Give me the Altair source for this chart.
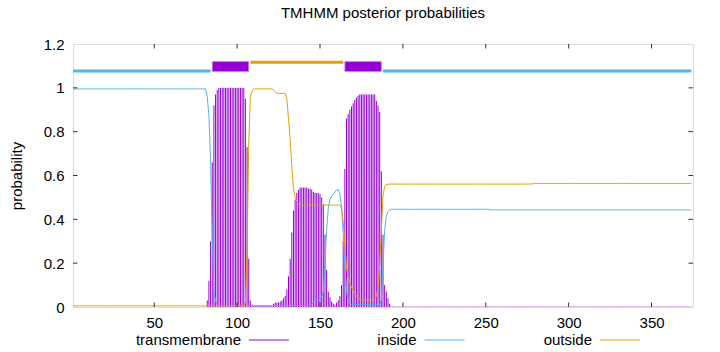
import altair as alt
import pandas as pd

# ---- data ----
residues = list(range(1, 375))

tm = ([0.0] * 81
      + [0.03, 0.12, 0.30, 0.66, 0.92, 0.97, 0.99]
      + [1.0] * 16
      + [0.95, 0.73, 0.22, 0.03, 0.01]
      + [0.004] * 12
      + [0.015, 0.02, 0.02, 0.02, 0.025, 0.03, 0.04, 0.05, 0.08, 0.14,
         0.22, 0.34, 0.44, 0.49, 0.52, 0.535, 0.545, 0.545, 0.545, 0.545,
         0.545, 0.54, 0.54, 0.535, 0.525, 0.52, 0.52, 0.52, 0.515, 0.50,
         0.47, 0.33, 0.17, 0.07, 0.045, 0.025, 0.015, 0.01, 0.02, 0.03,
         0.05, 0.10, 0.30, 0.63, 0.86, 0.88, 0.90, 0.915, 0.93, 0.945,
         0.955, 0.965]
      + [0.97] * 10
      + [0.94, 0.92, 0.89, 0.62, 0.33, 0.10, 0.07, 0.04]
      + [0.015]
      + [0.002] * 182)

inside = ([0.995] * 81
          + [0.96, 0.87, 0.66, 0.32, 0.07, 0.025, 0.01]
          + [0.007] * 56
          + [0.012, 0.02, 0.025, 0.03, 0.033, 0.037, 0.045, 0.07, 0.19, 0.35,
             0.45, 0.49, 0.505, 0.515, 0.525, 0.535, 0.535, 0.515, 0.46, 0.33,
             0.19, 0.075, 0.03, 0.015]
          + [0.012] * 18
          + [0.03, 0.19, 0.35, 0.415, 0.435, 0.442]
          + [0.446] * 60
          + [0.443] * 122)

outside = ([0.005] * 104
           + [0.02, 0.25, 0.74, 0.96, 0.985]
           + [0.995] * 12
           + [0.99, 0.98, 0.975, 0.975, 0.975, 0.975, 0.975, 0.975, 0.95, 0.86,
              0.77, 0.64, 0.54, 0.50, 0.48, 0.47]
           + [0.465] * 25
           + [0.45, 0.39, 0.28, 0.18, 0.13, 0.11, 0.09, 0.075, 0.06, 0.05,
              0.04, 0.035]
           + [0.032] * 8
           + [0.035, 0.05, 0.09, 0.19, 0.35, 0.51, 0.55, 0.558, 0.56]
           + [0.561] * 87
           + [0.564] * 96)

topo_start = [1, 85, 108, 165, 188]
topo_end = [84, 107, 164, 187, 374]
topo_kind = ["inside", "TMhelix", "outside", "TMhelix", "inside"]

x_ticks = [50, 100, 150, 200, 250, 300, 350]
y_ticks = [0, 0.2, 0.4, 0.6, 0.8, 1.0, 1.2]
legend_names = ["transmembrane", "inside", "outside"]

# ---- style ----
PURPLE = "#9400d3"
BLUE = "#56b4e9"
ORANGE = "#e69f00"
legend_colors = [PURPLE, BLUE, ORANGE]
FONT = "Liberation Sans"
W, H = 620, 263

df = pd.DataFrame({"residue": residues, "tm": tm, "inside": inside, "outside": outside})
topo = pd.DataFrame({"start": topo_start, "end": topo_end, "kind": topo_kind})
xt = pd.DataFrame({"v": x_ticks})
yt = pd.DataFrame({"v": [v for v in y_ticks if 0 < v < 1.2]})

xs = alt.Scale(domain=[1, 375], nice=False, zero=False)
ys = alt.Scale(domain=[0, 1.2], nice=False, zero=False)

x_axis = alt.Axis(values=x_ticks, ticks=False, domain=False, grid=False, labelPadding=8,
                  labelFontSize=15, labelFont=FONT, labelColor="black", title=None)
y_axis = alt.Axis(values=y_ticks, format=".1~f", ticks=False, domain=False, grid=False,
                  labelPadding=9, labelFontSize=15, labelFont=FONT, labelColor="black",
                  title="probability", titleFontSize=15, titleFont=FONT,
                  titleFontWeight="normal", titleColor="black", titleX=-57, titleY=H / 2,
                  titleAngle=270, titleAlign="center", titleBaseline="middle")


def X(field):
    return alt.X(field, scale=xs, axis=x_axis)


def Y(field):
    return alt.Y(field, scale=ys, axis=y_axis)


bars = alt.Chart(df).mark_rule(color=PURPLE, strokeWidth=1).encode(
    x=X("residue:Q"), y=Y("tm:Q"), y2=alt.datum(0),
)
line_in = alt.Chart(df).mark_line(color=BLUE, strokeWidth=1).encode(
    x=X("residue:Q"), y=Y("inside:Q"),
)
line_out = alt.Chart(df).mark_line(color=ORANGE, strokeWidth=1).encode(
    x=X("residue:Q"), y=Y("outside:Q"),
)

topo_in = alt.Chart(topo).transform_filter(alt.datum.kind == "inside").mark_rule(
    color=BLUE, strokeWidth=3).encode(
    x=X("start:Q"), x2="end:Q", y=alt.datum(1.077),
)
topo_out = alt.Chart(topo).transform_filter(alt.datum.kind == "outside").mark_rule(
    color=ORANGE, strokeWidth=3).encode(
    x=X("start:Q"), x2="end:Q", y=alt.datum(1.117),
)
topo_tm = alt.Chart(topo).transform_filter(alt.datum.kind == "TMhelix").mark_rect(
    color=PURPLE, stroke="#c98ae8", strokeWidth=0.8).encode(
    x=X("start:Q"), x2="end:Q", y=alt.datum(1.074), y2=alt.datum(1.12),
)

TK = 4.5
tick_col = "#333333"
xt_bot = alt.Chart(xt).mark_rule(color=tick_col, strokeWidth=1).encode(
    x=X("v:Q"), y=alt.value(H), y2=alt.value(H - TK))
xt_top = alt.Chart(xt).mark_rule(color=tick_col, strokeWidth=1).encode(
    x=X("v:Q"), y=alt.value(0), y2=alt.value(TK))
yt_left = alt.Chart(yt).mark_rule(color=tick_col, strokeWidth=1).encode(
    y=Y("v:Q"), x=alt.value(0), x2=alt.value(TK))
yt_right = alt.Chart(yt).mark_rule(color=tick_col, strokeWidth=1).encode(
    y=Y("v:Q"), x=alt.value(W), x2=alt.value(W - TK))

legend_layers = []
for i, (name, col) in enumerate(zip(legend_names, legend_colors)):
    off = i * 175.5
    legend_layers.append(
        alt.Chart(pd.DataFrame({"t": [name]})).mark_text(
            align="right", baseline="middle", fontSize=15, font=FONT, color="black"
        ).encode(text="t:N", x=alt.value(168 + off), y=alt.value(296)))
    legend_layers.append(
        alt.Chart(pd.DataFrame({"t": [name]})).mark_rule(color=col, strokeWidth=1).encode(
            x=alt.value(176 + off), x2=alt.value(216 + off), y=alt.value(296)))

chart = alt.layer(
    bars, line_in, line_out, topo_in, topo_out, topo_tm,
    xt_bot, xt_top, yt_left, yt_right, *legend_layers
).properties(
    width=W, height=H,
    title=alt.TitleParams("TMHMM posterior probabilities", fontSize=15, font=FONT,
                          fontWeight="normal", color="black", anchor="middle", offset=16),
    autosize=alt.AutoSizeParams(type="none"),
    padding={"left": 73, "top": 44, "right": 27, "bottom": 45},
).configure_view(stroke="#222222", strokeWidth=1).configure(font=FONT)

chart.save("out.html", embed_options={"renderer": "svg", "actions": False})
